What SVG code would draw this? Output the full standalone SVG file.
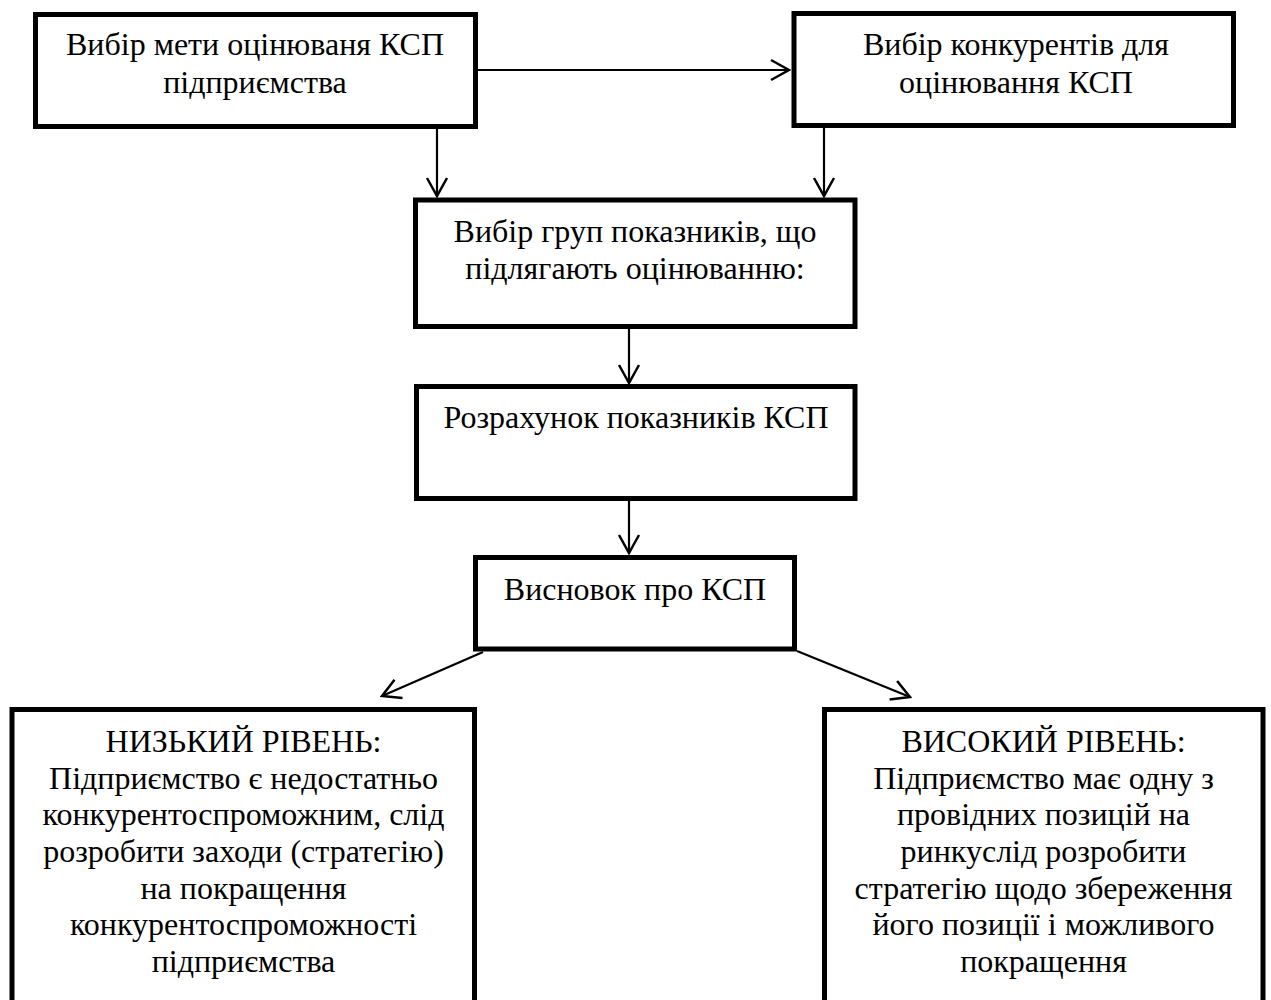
<svg xmlns="http://www.w3.org/2000/svg" width="1271" height="1000" viewBox="0 0 1271 1000">
<defs>
<style>
.box{fill:#fff;stroke:#000;stroke-width:5}
.t{font-family:"Liberation Serif","Times New Roman",serif;font-size:32px;fill:#000;text-anchor:middle}
.c{fill:none;stroke:#000;stroke-width:2.2}
</style>
<marker id="arr" markerUnits="userSpaceOnUse" viewBox="-20 -12 22 24" markerWidth="22" markerHeight="24" refX="0" refY="0" orient="auto">
<path d="M-18,-10 L0,0 L-18,10" fill="none" stroke="#000" stroke-width="2.5"/>
</marker>
</defs>
<rect width="1271" height="1000" fill="#fff"/>
<g id="connectors">
<line class="c" x1="478" y1="70" x2="789" y2="70" marker-end="url(#arr)"/>
<line class="c" x1="437" y1="129" x2="437" y2="196" marker-end="url(#arr)"/>
<line class="c" x1="824" y1="128" x2="824" y2="196" marker-end="url(#arr)"/>
<line class="c" x1="629" y1="329" x2="629" y2="383" marker-end="url(#arr)"/>
<line class="c" x1="629" y1="501" x2="629" y2="553" marker-end="url(#arr)"/>
<line class="c" x1="483" y1="652" x2="382" y2="696" marker-end="url(#arr)"/>
<line class="c" x1="797" y1="651" x2="910" y2="697" marker-end="url(#arr)"/>
</g>
<g id="node1">
<rect class="box" x="35.5" y="14.5" width="440" height="112"/>
<text class="t" x="255" y="55">Вибір мети оцінюваня КСП</text>
<text class="t" x="255" y="93">підприємства</text>
</g>
<g id="node2">
<rect class="box" x="794" y="13.5" width="439.5" height="112"/>
<text class="t" x="1016" y="55">Вибір конкурентів для</text>
<text class="t" x="1016" y="93">оцінювання КСП</text>
</g>
<g id="node3">
<rect class="box" x="415.5" y="200" width="439.5" height="126.5"/>
<text class="t" x="635" y="242">Вибір груп показників, що</text>
<text class="t" x="635" y="279">підлягають оцінюванню:</text>
</g>
<g id="node4">
<rect class="box" x="416.5" y="386.5" width="438.5" height="112"/>
<text class="t" x="636" y="428">Розрахунок показників КСП</text>
</g>
<g id="node5">
<rect class="box" x="475.5" y="557.5" width="319" height="91.5"/>
<text class="t" x="635" y="600">Висновок про КСП</text>
</g>
<g id="node6">
<rect class="box" x="12" y="709.5" width="462.5" height="330"/>
<text class="t" x="243.5" y="752">НИЗЬКИЙ РІВЕНЬ:</text>
<text class="t" x="243.5" y="788.7">Підприємство є недостатньо</text>
<text class="t" x="243.5" y="825.3">конкурентоспроможним, слід</text>
<text class="t" x="243.5" y="862">розробити заходи (стратегію)</text>
<text class="t" x="243.5" y="898.7">на покращення</text>
<text class="t" x="243.5" y="935.3">конкурентоспроможності</text>
<text class="t" x="243.5" y="972">підприємства</text>
</g>
<g id="node7">
<rect class="box" x="824.5" y="709.5" width="438.5" height="330"/>
<text class="t" x="1043.5" y="752">ВИСОКИЙ РІВЕНЬ:</text>
<text class="t" x="1043.5" y="788.7">Підприємство має одну з</text>
<text class="t" x="1043.5" y="825.3">провідних позицій на</text>
<text class="t" x="1043.5" y="862">ринкуслід розробити</text>
<text class="t" x="1043.5" y="898.7">стратегію щодо збереження</text>
<text class="t" x="1043.5" y="935.3">його позиції і можливого</text>
<text class="t" x="1043.5" y="972">покращення</text>
</g>
</svg>
